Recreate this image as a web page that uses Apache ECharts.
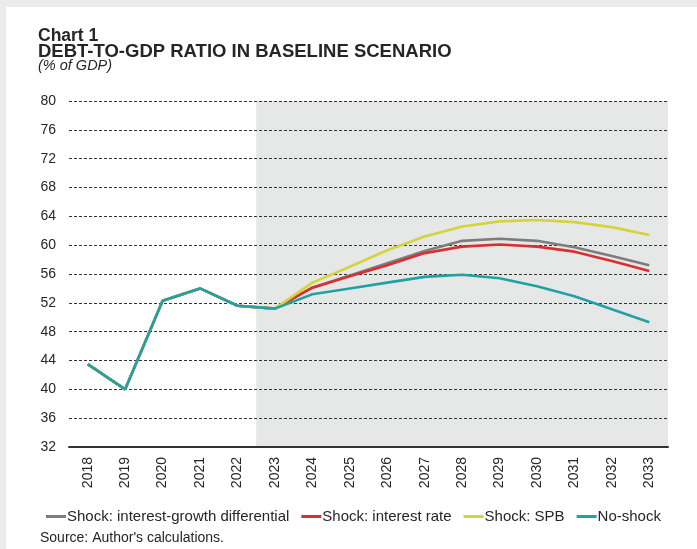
<!DOCTYPE html>
<html>
<head>
<meta charset="utf-8">
<script src="https://cdn.jsdelivr.net/npm/echarts@6/dist/echarts.min.js"></script>
<style>
html,body{margin:0;padding:0;background:#fff;}
#chart{width:697px;height:549px;}
</style>
</head>
<body>
<div id="chart"></div>
<script>
// ---- data ----
var years = ['2018','2019','2020','2021','2022','2023','2024','2025','2026','2027','2028','2029','2030','2031','2032','2033'];
var projectionStartYear = '2023';
var seriesNames = ['Shock: interest-growth differential','Shock: interest rate','Shock: SPB','No-shock'];
var igdShock   = [43.5, 40.0, 52.3, 54.0, 51.6, 51.2, 54.1, 55.8, 57.5, 59.2, 60.6, 60.9, 60.6, 59.7, 58.5, 57.2];
var rateShock  = [43.5, 40.0, 52.3, 54.0, 51.6, 51.2, 54.1, 55.7, 57.2, 58.9, 59.8, 60.1, 59.8, 59.1, 57.8, 56.4];
var spbShock   = [43.5, 40.0, 52.3, 54.0, 51.6, 51.2, 54.8, 57.0, 59.3, 61.2, 62.6, 63.3, 63.5, 63.2, 62.5, 61.4];
var noShock    = [43.5, 40.0, 52.3, 54.0, 51.6, 51.2, 53.2, 54.0, 54.8, 55.6, 55.9, 55.4, 54.3, 52.9, 51.1, 49.3];
var yTicks = {min: 32, max: 80, step: 4};

var colors = ['#7d7d7d', '#d92f31', '#d5d33c', '#22a1a5'];
var txt = '#262626';
var FONT = '"Liberation Sans", Arial, sans-serif';

var chart = echarts.init(document.getElementById('chart'));
var lineSeries = [igdShock, rateShock, spbShock, noShock].map(function (d, i) {
  return {
    name: seriesNames[i], type: 'line', data: d,
    xAxisIndex: 0, yAxisIndex: 0,
    symbol: 'none', smooth: false,
    lineStyle: {color: colors[i], width: 2.6},
    itemStyle: {color: colors[i]},
    z: 5 + i
  };
});
var projStart = years.indexOf(projectionStartYear);

var option = {
  backgroundColor: '#ffffff',
  animation: false,
  graphic: [
    {type: 'rect', left: 0, top: 0, shape: {width: 697, height: 7}, style: {fill: '#ebebeb'}, silent: true},
    {type: 'rect', left: 0, top: 0, shape: {width: 6, height: 549}, style: {fill: '#ebebeb'}, silent: true},
    {type: 'text', x: 38, y: 36, style: {text: 'Chart 1', font: 'bold 17.5px ' + FONT, fill: txt, verticalAlign: 'middle'}},
    {type: 'text', x: 38, y: 52, style: {text: 'DEBT-TO-GDP RATIO IN BASELINE SCENARIO', font: 'bold 18.5px ' + FONT, fill: txt, verticalAlign: 'middle'}},
    {type: 'text', x: 38, y: 66, style: {text: '(% of GDP)', font: 'italic 14.5px ' + FONT, fill: txt, verticalAlign: 'middle'}},
    {type: 'text', x: 40, y: 538, style: {text: "Source: Author's calculations.", font: '14px ' + FONT, fill: txt, verticalAlign: 'middle'}}
  ],
  legend: {
    left: 41, top: 504,
    data: seriesNames,
    icon: 'rect', itemWidth: 20, itemHeight: 3, itemGap: 12,
    textStyle: {fontFamily: FONT, fontSize: 15, color: txt, padding: [0, 0, 0, -4]},
    selectedMode: false
  },
  grid: {left: 69, right: 29, top: 101, bottom: 102, containLabel: false},
  xAxis: [
    {
      type: 'category', data: years, boundaryGap: true, z: 3,
      axisLine: {show: true, lineStyle: {color: '#333', width: 2}},
      axisTick: {show: false},
      axisLabel: {rotate: 90, margin: 10, fontFamily: FONT, fontSize: 14, color: txt},
      splitLine: {show: false}
    },
    {
      type: 'value', min: 0, max: years.length, show: false,
      splitLine: {show: false}
    }
  ],
  yAxis: {
    type: 'value', min: yTicks.min, max: yTicks.max, interval: yTicks.step, z: 3,
    axisLine: {show: false}, axisTick: {show: false},
    axisLabel: {margin: 13, fontFamily: FONT, fontSize: 14, color: txt},
    splitLine: {show: true, lineStyle: {color: '#333333', width: 1, type: [3, 2]}}
  },
  series: [
    {
      name: 'projection', type: 'line', xAxisIndex: 1, yAxisIndex: 0,
      data: [[projStart, null]], symbol: 'none', z: 1, silent: true,
      markArea: {
        silent: true,
        itemStyle: {color: '#e6e8e7'},
        data: [[{xAxis: projStart}, {xAxis: years.length}]]
      }
    }
  ].concat(lineSeries)
};
chart.setOption(option);
</script>
</body>
</html>
